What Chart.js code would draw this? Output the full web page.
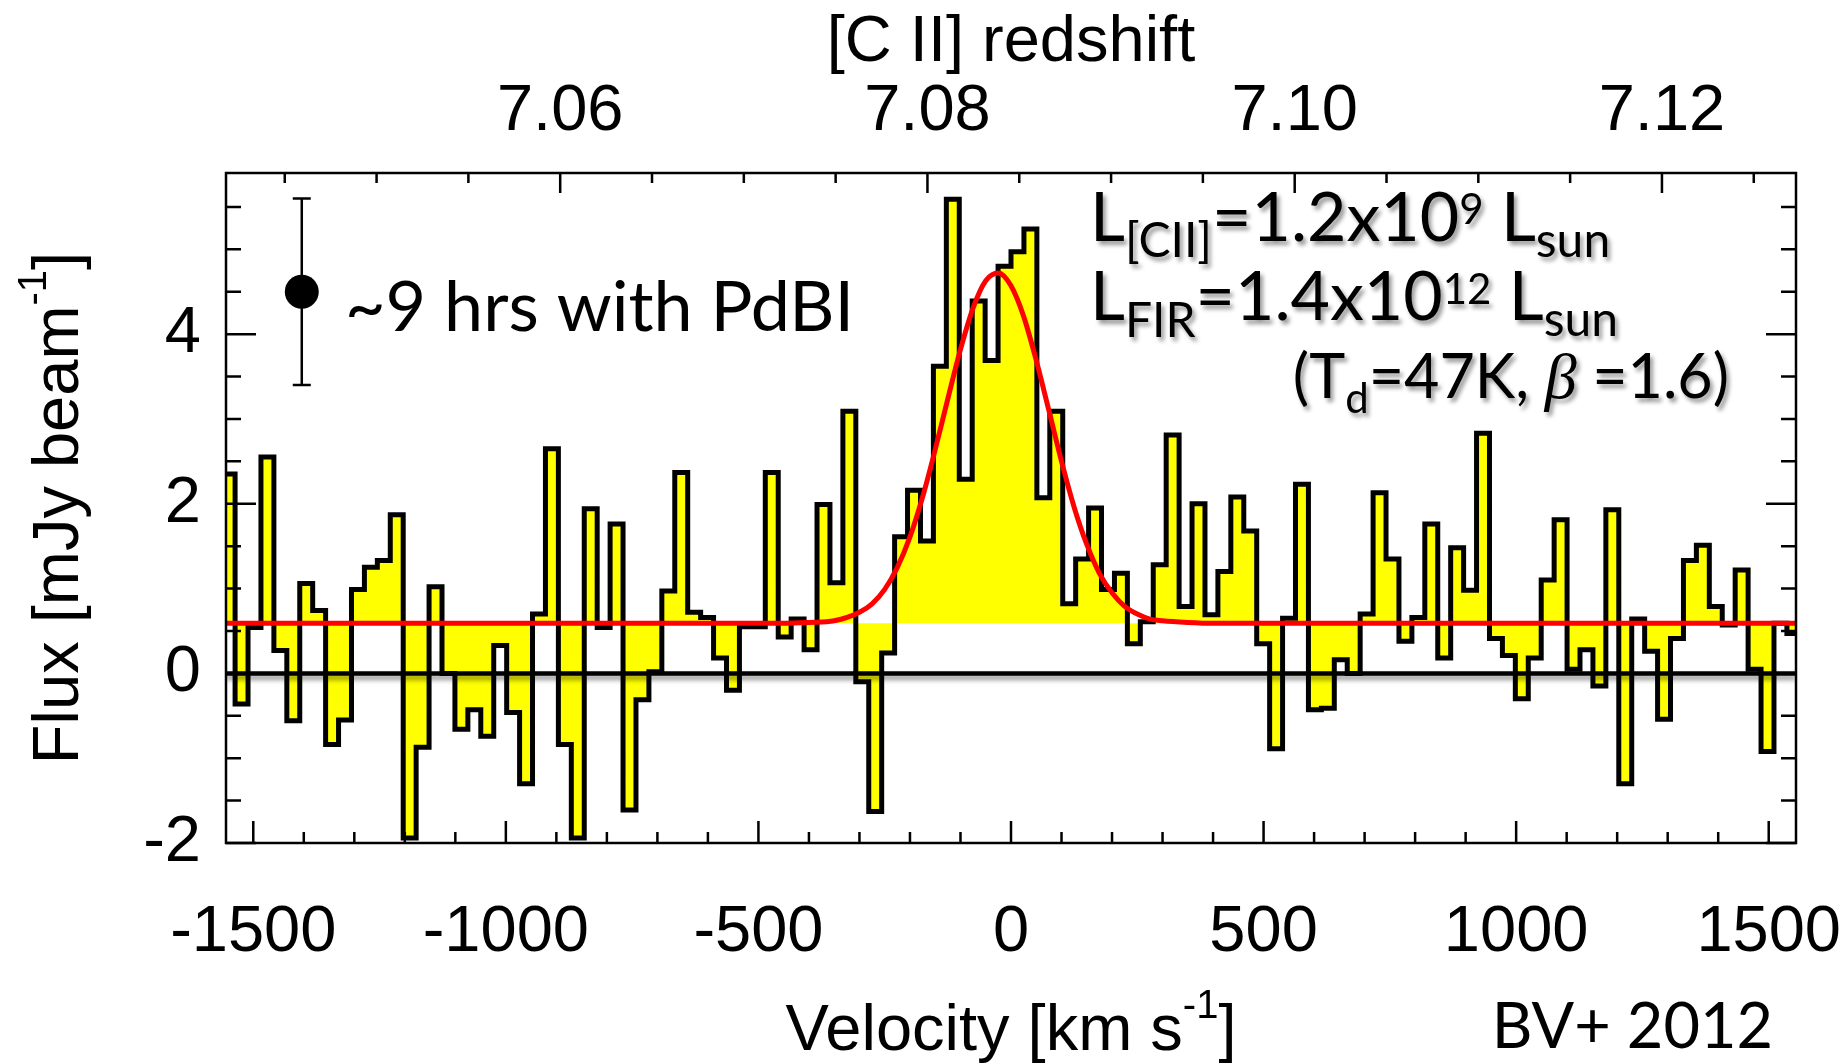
<!DOCTYPE html>
<html>
<head>
<meta charset="utf-8">
<script src="https://cdn.jsdelivr.net/npm/chart.js@4.4.1/dist/chart.umd.min.js"></script>
<style>
  html, body { margin: 0; padding: 0; background: #fff; }
  canvas { display: block; }
</style>
</head>
<body>
<canvas id="grafico" width="1847" height="1063" style="width:1847px;height:1063px"></canvas>
<script>
// canais do espectro (25.6 km/s cada)
const binWidth = 25.6;
const firstEdge = -1561.6;
const flux = [
  2.35, -0.36, 0.54, 2.55, 0.27, -0.56, 1.06, 0.74, -0.84, -0.55,
  0.99, 1.25, 1.33, 1.87, -1.94, -0.87, 1.02, 0.00, -0.66, -0.43,
  -0.74, 0.33, -0.46, -1.30, 0.70, 2.65, -0.84, -1.94, 1.94, 0.54,
  1.76, -1.61, -0.31, 0.02, 0.97, 2.37, 0.72, 0.66, 0.18, -0.20,
  0.55, 0.55, 2.37, 0.43, 0.64, 0.28, 1.99, 1.07, 3.09, -0.10,
  -1.63, 0.24, 1.61, 2.16, 1.56, 3.62, 5.59, 2.29, 4.39, 3.69,
  4.80, 4.97, 5.24, 2.07, 3.09, 0.82, 1.35, 1.95, 0.99, 1.18,
  0.35, 0.61, 1.28, 2.81, 0.79, 2.00, 0.69, 1.20, 2.08, 1.68,
  0.35, -0.89, 0.65, 2.23, -0.43, -0.41, 0.16, 0.00, 0.70, 2.13,
  1.35, 0.38, 0.66, 1.76, 0.18, 1.48, 0.98, 2.83, 0.41, 0.21,
  -0.30, 0.18, 1.10, 1.81, 0.05, 0.28, -0.15, 1.93, -1.30, 0.64,
  0.26, -0.54, 0.41, 1.33, 1.51, 0.79, 0.57, 1.22, 0.05, -0.92,
  0.59, 0.47
];

// curva vermelha (ajuste)
const modelVel = [-1554, -450, -400, -350, -300, -275, -250, -225, -200, -175, -150, -125, -100, -75, -50, -25,
  0, 25, 50, 75, 100, 125, 150, 175, 200, 225, 250, 275, 300, 350, 400, 1554];
const modelFlux = [0.59, 0.59, 0.60, 0.62, 0.72, 0.82, 0.99, 1.25, 1.61, 2.08, 2.64, 3.24, 3.82, 4.31, 4.63, 4.72,
  4.57, 4.21, 3.69, 3.10, 2.50, 1.96, 1.52, 1.18, 0.95, 0.79, 0.70, 0.64, 0.62, 0.60, 0.59, 0.59];
const continuum = 0.59;

// barra de erro (ruido)
const noiseVel = -1404;
const noiseFlux = 4.5;
const noiseErr = 1.1;

// eixos
const velMin = -1554, velMax = 1554;
const velTickFirst = -1500, velTickLast = 1500, velTickStep = 100, velLabelStep = 500;
const fluxMin = -2, fluxMax = 5.9;
const zLeft = 7.0418, zRight = 7.1273;

const helv = '"Liberation Sans", Arial, sans-serif';
const gill = 'Lato, "Open Sans", sans-serif';

const histo = flux.map((f, i) => ({ x: firstEdge + i * binWidth, y: f }));
histo.push({ x: firstEdge + flux.length * binWidth, y: flux[flux.length - 1] });

const modelo = modelVel.map((v, i) => ({ x: v, y: modelFlux[i] }));

function escreve(ctx, x, y, partes, alinhar) {
  let total = 0;
  partes.forEach(p => {
    ctx.font = p.f;
    p.w = ctx.measureText(p.t).width;
    total += p.w;
  });
  let cx = alinhar === 'right' ? x - total : alinhar === 'center' ? x - total / 2 : x;
  partes.forEach(p => {
    ctx.font = p.f;
    ctx.fillText(p.t, cx, y + (p.dy || 0));
    cx += p.w;
  });
}

const sombra = {
  id: 'sombra',
  beforeDatasetDraw(chart, args) {
    if (args.index === 3) {
      chart.ctx.save();
      chart.ctx.shadowColor = 'rgba(0,0,0,0.45)';
      chart.ctx.shadowOffsetY = 4;
      chart.ctx.shadowBlur = 5;
    }
  },
  afterDatasetDraw(chart, args) {
    if (args.index === 3) chart.ctx.restore();
  }
};

const moldura = {
  id: 'moldura',
  afterDatasetsDraw(chart) {
    const { ctx, chartArea: a, scales } = chart;
    ctx.save();
    ctx.strokeStyle = '#000';
    ctx.lineWidth = 2.5;

    // barra de erro
    const ex = scales.x.getPixelForValue(noiseVel);
    const eTop = scales.y.getPixelForValue(noiseFlux + noiseErr);
    const eBot = scales.y.getPixelForValue(noiseFlux - noiseErr);
    ctx.beginPath();
    ctx.moveTo(ex, eTop); ctx.lineTo(ex, eBot);
    ctx.moveTo(ex - 9, eTop); ctx.lineTo(ex + 9, eTop);
    ctx.moveTo(ex - 9, eBot); ctx.lineTo(ex + 9, eBot);
    ctx.stroke();

    ctx.strokeRect(a.left, a.top, a.right - a.left, a.bottom - a.top);

    ctx.beginPath();
    scales.x.ticks.forEach(t => {
      const px = scales.x.getPixelForValue(t.value);
      const len = t.value % velLabelStep === 0 ? 22 : 11;
      ctx.moveTo(px, a.bottom); ctx.lineTo(px, a.bottom - len);
    });
    scales.xTop.ticks.forEach(t => {
      const px = scales.xTop.getPixelForValue(t.value);
      const len = Math.round(t.value * 1000) % 20 === 0 ? 20 : 10;
      ctx.moveTo(px, a.top); ctx.lineTo(px, a.top + len);
    });
    scales.y.ticks.forEach(t => {
      const py = scales.y.getPixelForValue(t.value);
      const len = t.value % 2 === 0 ? 30 : 15;
      ctx.moveTo(a.left, py); ctx.lineTo(a.left + len, py);
      ctx.moveTo(a.right, py); ctx.lineTo(a.right - len, py);
    });
    ctx.stroke();
    ctx.restore();
  },
  afterDraw(chart) {
    const ctx = chart.ctx;
    const a = chart.chartArea;
    ctx.save();
    ctx.fillStyle = '#000';
    ctx.textBaseline = 'alphabetic';

    // titulos dos eixos
    escreve(ctx, (a.left + a.right) / 2, 61, [{ t: '[C II] redshift', f: '65px ' + helv }], 'center');
    escreve(ctx, (a.left + a.right) / 2, 1050, [
      { t: 'Velocity [km s', f: '65px ' + helv },
      { t: '-1', f: '40px ' + helv, dy: -32 },
      { t: ']', f: '65px ' + helv }
    ], 'center');
    ctx.save();
    ctx.translate(78, (a.top + a.bottom) / 2);
    ctx.rotate(-Math.PI / 2);
    escreve(ctx, 0, 0, [
      { t: 'Flux [mJy beam', f: '65px ' + helv },
      { t: '-1', f: '40px ' + helv, dy: -32 },
      { t: ']', f: '65px ' + helv }
    ], 'center');
    ctx.restore();

    escreve(ctx, 345, 331, [{ t: '~9 hrs with PdBI', f: '70px ' + gill }]);
    escreve(ctx, 1773, 1048, [{ t: 'BV+ 2012', f: '63px ' + gill }], 'right');

    // luminosidades
    ctx.shadowColor = 'rgba(0,0,0,0.4)';
    ctx.shadowOffsetX = 3;
    ctx.shadowOffsetY = 4;
    ctx.shadowBlur = 4;
    escreve(ctx, 1090, 241, [
      { t: 'L', f: '68px ' + gill },
      { t: '[CII]', f: '48px ' + gill, dy: 16 },
      { t: '=1.2x10', f: '68px ' + gill },
      { t: '9', f: '42px ' + gill, dy: -17 },
      { t: ' L', f: '68px ' + gill },
      { t: 'sun', f: '48px ' + gill, dy: 16 }
    ]);
    escreve(ctx, 1090, 320, [
      { t: 'L', f: '68px ' + gill },
      { t: 'FIR', f: '48px ' + gill, dy: 17 },
      { t: '=1.4x10', f: '68px ' + gill },
      { t: '12', f: '42px ' + gill, dy: -16 },
      { t: ' L', f: '68px ' + gill },
      { t: 'sun', f: '48px ' + gill, dy: 16 }
    ]);
    escreve(ctx, 1729, 398, [
      { t: '(T', f: '61px ' + gill },
      { t: 'd', f: '42px ' + gill, dy: 15 },
      { t: '=47K, ', f: '61px ' + gill },
      { t: 'β', f: 'italic 64px "Liberation Serif", serif' },
      { t: ' =1.6)', f: '61px ' + gill }
    ], 'right');
    ctx.restore();
  }
};

const fonteTicks = { family: helv, size: 65 };

new Chart(document.getElementById('grafico'), {
  type: 'line',
  data: {
    datasets: [
      {
        data: [{ x: noiseVel, y: noiseFlux }],
        xAxisID: 'x', yAxisID: 'y',
        showLine: false,
        pointRadius: 17,
        pointBackgroundColor: '#000',
        pointBorderWidth: 0
      },
      {
        data: modelo,
        xAxisID: 'x', yAxisID: 'y',
        borderColor: '#ff0000',
        borderWidth: 5,
        cubicInterpolationMode: 'monotone',
        pointRadius: 0,
        fill: false
      },
      {
        data: histo,
        xAxisID: 'x', yAxisID: 'y',
        stepped: true,
        borderColor: '#000',
        borderWidth: 5,
        borderJoinStyle: 'miter',
        backgroundColor: '#ffff00',
        fill: { value: continuum },
        pointRadius: 0
      },
      {
        data: [{ x: velMin, y: 0 }, { x: velMax, y: 0 }],
        xAxisID: 'x', yAxisID: 'y',
        borderColor: '#000',
        borderWidth: 4.5,
        pointRadius: 0,
        fill: false
      }
    ]
  },
  options: {
    responsive: false,
    animation: false,
    events: [],
    layout: { padding: { left: 0, right: 51, top: 0, bottom: 0 } },
    plugins: {
      legend: { display: false },
      tooltip: { enabled: false },
      filler: { drawTime: 'beforeDatasetsDraw' }
    },
    scales: {
      x: {
        type: 'linear',
        position: 'bottom',
        min: velMin, max: velMax,
        grid: { display: false, drawTicks: false },
        border: { display: false },
        afterFit(s) { s.height = 220; s.paddingLeft = 0; s.paddingRight = 0; },
        afterBuildTicks(s) {
          const t = [];
          for (let v = velTickFirst; v <= velTickLast; v += velTickStep) t.push({ value: v });
          s.ticks = t;
        },
        ticks: {
          autoSkip: false, maxRotation: 0,
          padding: 51, color: '#000', font: fonteTicks,
          callback: v => (v % velLabelStep === 0 ? String(v) : '')
        }
      },
      xTop: {
        type: 'linear',
        position: 'top',
        min: zLeft, max: zRight,
        grid: { display: false, drawTicks: false },
        border: { display: false },
        afterFit(s) { s.height = 173; s.paddingLeft = 0; s.paddingRight = 0; },
        ticks: {
          stepSize: 0.005, autoSkip: false, maxRotation: 0, includeBounds: false,
          padding: 22, color: '#000', font: fonteTicks,
          callback: v => (Math.round(v * 1000) % 20 === 0 ? v.toFixed(2) : '')
        }
      },
      y: {
        type: 'linear',
        position: 'left',
        min: fluxMin, max: fluxMax,
        grid: { display: false, drawTicks: false },
        border: { display: false },
        afterFit(s) { s.width = 226; s.paddingTop = 0; s.paddingBottom = 0; },
        ticks: {
          stepSize: 0.5, autoSkip: false, includeBounds: false,
          padding: 25, color: '#000', font: fonteTicks,
          callback: v => (v % 2 === 0 ? String(v) : '')
        }
      }
    }
  },
  plugins: [sombra, moldura]
});
</script>
</body>
</html>
